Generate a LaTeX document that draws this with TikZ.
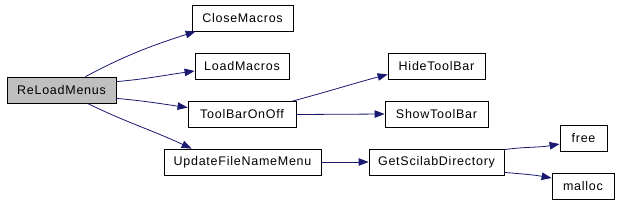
\documentclass[tikz,border=0pt]{standalone}
\usepackage{fontspec}
\setmainfont[LetterSpace=6]{Liberation Sans}
\usepackage{xcolor}
\usepackage{tikz}
\usetikzlibrary{arrows.meta}
\definecolor{edgeblue}{HTML}{191970}

\begin{document}
\begin{tikzpicture}[x=1pt,y=-1pt,font=\fontsize{12.5}{14}\selectfont,
    fn/.style={draw,line width=0.8pt,minimum height=26pt,inner sep=0pt},
    call/.style={draw=edgeblue,line width=0.8pt,-{Triangle[length=10pt,width=7.5pt]},fill=none}]
  \useasboundingbox (0,0) rectangle (618,202);
  \node[fn,fill=black!25,minimum width=109pt] (reload) at (61.5,90) {ReLoadMenus};
  \node[fn,minimum width=101pt] (close) at (242.5,18) {CloseMacros};
  \node[fn,minimum width=94pt] (load) at (242,66) {LoadMacros};
  \node[fn,minimum width=108pt] (toolbar) at (242,114.5) {ToolBarOnOff};
  \node[fn,minimum width=157pt] (update) at (242.5,162) {UpdateFileNameMenu};
  \node[fn,minimum width=97pt] (hide) at (436.5,66) {HideToolBar};
  \node[fn,minimum width=103pt] (show) at (436.5,114) {ShowToolBar};
  \node[fn,minimum width=135pt] (getdir) at (436.5,162) {GetScilabDirectory};
  \node[fn,minimum width=47pt] (free) at (583.5,138) {free};
  \node[fn,minimum width=62pt] (malloc) at (583,186) {malloc};
  % calls
  \draw[call] ([xshift=24pt]reload.north) to[out=28,in=198] ([xshift=4pt]close.south west);
  \draw[call] ([yshift=-5pt]reload.north east) to[out=5,in=188] ([yshift=-5pt]load.west);
  \draw[call] ([yshift=5pt]reload.south east) to[out=-5,in=172] ([yshift=7pt]toolbar.west);
  \draw[call] ([xshift=26pt]reload.south) to[out=-26,in=155] ([xshift=28pt]update.north west);
  \draw[call] ([xshift=-4pt]toolbar.north east) to[out=15,in=195] ([yshift=5pt]hide.south west);
  \draw[call] (toolbar.east) -- (show.west);
  \draw[call] (update.east) -- (getdir.west);
  \draw[call] ([yshift=-1pt]getdir.north east) to[out=8,in=190] ([yshift=-6pt]free.west);
  \draw[call] ([yshift=3pt]getdir.south east) to[out=-5,in=170] ([yshift=8pt]malloc.west);
\end{tikzpicture}
\end{document}
